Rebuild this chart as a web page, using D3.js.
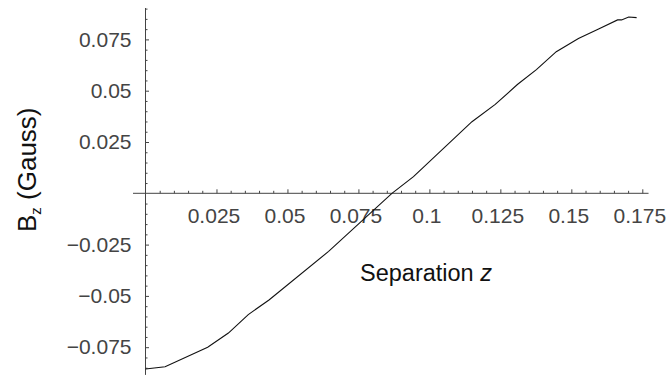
<!DOCTYPE html>
<html>
<head>
<meta charset="utf-8">
<script src="https://cdn.jsdelivr.net/npm/d3@7"></script>
<style>
  html, body { margin: 0; padding: 0; background: #fff; }
  svg { display: block; }
</style>
</head>
<body>
<svg id="chart" width="671" height="375"></svg>
<script>
// Data
const zVals = [0, 0.0069, 0.0219, 0.0292, 0.0362, 0.0435, 0.0645, 0.0868, 0.0944, 0.1150, 0.1232, 0.1310, 0.1377, 0.1447, 0.1525, 0.1596, 0.1663, 0.1677, 0.1702, 0.1730];
const bVals = [-0.0856, -0.0845, -0.0750, -0.0681, -0.0591, -0.0520, -0.0283, 0, 0.0081, 0.0349, 0.0433, 0.0530, 0.0603, 0.0690, 0.0754, 0.0801, 0.0845, 0.0845, 0.0859, 0.0856];

const xTickValues = [0.025, 0.05, 0.075, 0.1, 0.125, 0.15, 0.175];
const xTickLabels = ["0.025", "0.05", "0.075", "0.1", "0.125", "0.15", "0.175"];
const yTickValues = [-0.075, -0.05, -0.025, 0.025, 0.05, 0.075];
const yTickLabels = ["\u22120.075", "\u22120.05", "\u22120.025", "0.025", "0.05", "0.075"];
const xRange = [-0.0044, 0.1772];
const yRange = [-0.0885, 0.0903];

const svg = d3.select("#chart");
const x = d3.scaleLinear().domain([0, 0.175]).range([145.5, 642.3]);
const y = d3.scaleLinear().domain([-0.075, 0.075]).range([347.2, 39.4]);

const axisColor = "#444";
const fontFam = "'Liberation Sans', Arial, sans-serif";

// minor tick values
const xMinor = d3.range(1, 36).map(i => +(i * 0.005).toFixed(4)).filter(v => !xTickValues.some(t => Math.abs(t - v) < 1e-9));
const yMinor = d3.range(-17, 19).map(i => +(i * 0.005).toFixed(4)).filter(v => v !== 0 && !yTickValues.some(t => Math.abs(t - v) < 1e-9));

// axis lines
svg.append("line")
  .attr("x1", x(xRange[0])).attr("x2", x(xRange[1]))
  .attr("y1", y(0)).attr("y2", y(0))
  .attr("stroke", axisColor).attr("stroke-width", 1);
svg.append("line")
  .attr("x1", x(0)).attr("x2", x(0))
  .attr("y1", y(yRange[1])).attr("y2", y(yRange[0]))
  .attr("stroke", axisColor).attr("stroke-width", 1);

// x axis major
const gx = svg.append("g").attr("transform", `translate(0,${y(0)})`)
  .call(d3.axisBottom(x).tickValues(xTickValues)
    .tickFormat((d, i) => xTickLabels[i])
    .tickSizeInner(-4).tickSizeOuter(0).tickPadding(15));
gx.select(".domain").remove();
gx.selectAll(".tick line").attr("stroke", axisColor);
gx.selectAll(".tick text")
  .attr("font-family", fontFam).attr("font-size", 21).attr("fill", "#444")
  .attr("dx", -3);

// x axis minor
const gxm = svg.append("g").attr("transform", `translate(0,${y(0)})`)
  .call(d3.axisBottom(x).tickValues(xMinor).tickFormat("").tickSizeInner(-2.5).tickSizeOuter(0));
gxm.select(".domain").remove();
gxm.selectAll(".tick line").attr("stroke", axisColor);

// y axis major
const gy = svg.append("g").attr("transform", `translate(${x(0)},0)`)
  .call(d3.axisLeft(y).tickValues(yTickValues)
    .tickFormat((d, i) => yTickLabels[i])
    .tickSizeInner(-3.5).tickSizeOuter(0).tickPadding(14));
gy.select(".domain").remove();
gy.selectAll(".tick line").attr("stroke", axisColor);
gy.selectAll(".tick text")
  .attr("font-family", fontFam).attr("font-size", 21).attr("fill", "#444");

// y axis minor
const gym = svg.append("g").attr("transform", `translate(${x(0)},0)`)
  .call(d3.axisLeft(y).tickValues(yMinor).tickFormat("").tickSizeInner(-2).tickSizeOuter(0));
gym.select(".domain").remove();
gym.selectAll(".tick line").attr("stroke", axisColor);

// curve
const line = d3.line().x((d, i) => x(zVals[i])).y((d, i) => y(bVals[i]));
svg.append("path")
  .datum(zVals)
  .attr("d", line)
  .attr("fill", "none")
  .attr("stroke", "#111")
  .attr("stroke-width", 1.1);

// x label
const xl = svg.append("text")
  .attr("x", 360).attr("y", 281)
  .attr("font-family", fontFam).attr("font-size", 23.5).attr("fill", "#111");
xl.append("tspan").text("Separation ");
xl.append("tspan").attr("font-style", "italic").text("z");

// y label
const yl = svg.append("text")
  .attr("transform", "translate(36,232) rotate(-90)")
  .attr("font-family", fontFam).attr("font-size", 26).attr("fill", "#111");
yl.append("tspan").text("B");
yl.append("tspan").attr("font-size", 15).attr("dy", 5).text("z");
yl.append("tspan").attr("dy", -5).text(" (Gauss)");
</script>
</body>
</html>
